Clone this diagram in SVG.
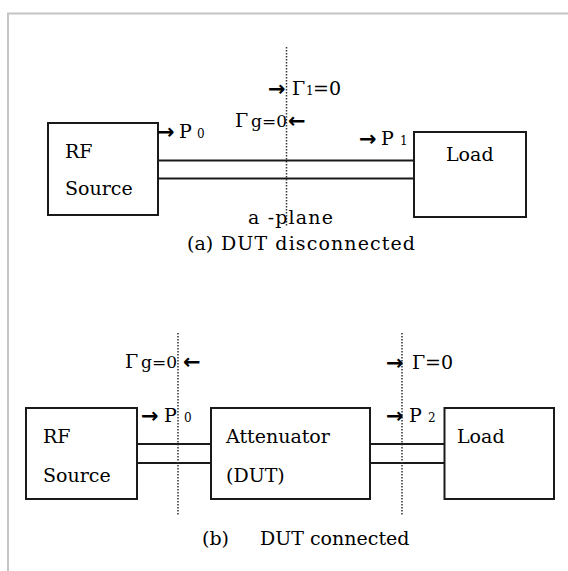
<svg xmlns="http://www.w3.org/2000/svg" width="568" height="571" viewBox="0 0 568 571">
<style>
.bx{fill:#fff;stroke:#1a1a1a;stroke-width:2}
.ln{stroke:#1a1a1a;stroke-width:2;fill:none}
.dot{stroke:#333;stroke-width:1.5;stroke-dasharray:1.5 1.5;fill:none}
.t{font-family:"DejaVu Serif","Liberation Serif",serif;font-size:19px;fill:#000}
.s{font-size:12px}
.g{font-size:17px}
.ar{font-family:"DejaVu Sans",sans-serif;font-size:21px;font-weight:bold;fill:#000}
.frame{stroke:#c4c4c4;stroke-width:2;fill:none}
</style>
<rect width="568" height="571" fill="#fff"/>
<path class="frame" d="M8,571 V13.5 H568"/>

<!-- Panel (a) -->
<g id="connectors-a">
<line class="ln" x1="158" y1="160.5" x2="414" y2="160.5"/>
<line class="ln" x1="158" y1="178.5" x2="414" y2="178.5"/>
<line class="dot" x1="286.5" y1="47" x2="286.5" y2="226"/>
</g>
<g id="a-rf-source">
<rect class="bx" x="48" y="123" width="110" height="92"/>
<text class="t" x="65" y="158">RF</text>
<text class="t" x="65" y="195">Source</text>
</g>
<g id="a-load">
<rect class="bx" x="414" y="132" width="112" height="85"/>
<text class="t" x="446" y="161">Load</text>
</g>
<g id="a-labels">
<text class="ar" x="157" y="139">→</text>
<text class="t" x="179" y="138">P<tspan class="s" x="197">0</tspan></text>
<text class="ar" x="359" y="146">→</text>
<text class="t" x="381" y="145">P<tspan class="s" x="400">1</tspan></text>
<text class="ar" x="268" y="96">→</text>
<text class="t" x="292" y="95">Γ<tspan class="s" x="306">1</tspan><tspan x="313">=0</tspan></text>
<text class="t" x="235" y="127">Γ<tspan class="g" x="251">g=0</tspan></text>
<text class="ar" x="288" y="128">←</text>
<text class="t" x="248" y="224" textLength="85">a -plane</text>
<text class="t" x="187" y="250">(a)</text>
<text class="t" x="221" y="250" textLength="194">DUT disconnected</text>
</g>

<!-- Panel (b) -->
<g id="connectors-b">
<line class="ln" x1="137" y1="444" x2="211" y2="444"/>
<line class="ln" x1="137" y1="463" x2="211" y2="463"/>
<line class="ln" x1="370" y1="444" x2="444.5" y2="444"/>
<line class="ln" x1="370" y1="463" x2="444.5" y2="463"/>
<line class="dot" x1="178" y1="333" x2="178" y2="516"/>
<line class="dot" x1="402" y1="333" x2="402" y2="516"/>
</g>
<g id="b-rf-source">
<rect class="bx" x="26" y="408" width="111" height="91"/>
<text class="t" x="43" y="443">RF</text>
<text class="t" x="43" y="482">Source</text>
</g>
<g id="b-attenuator">
<rect class="bx" x="211" y="408" width="159" height="91"/>
<text class="t" x="226" y="443">Attenuator</text>
<text class="t" x="226" y="482">(DUT)</text>
</g>
<g id="b-load">
<rect class="bx" x="444.5" y="408" width="109.5" height="91"/>
<text class="t" x="457" y="443">Load</text>
</g>
<g id="b-labels">
<text class="t" x="125" y="368">Γ<tspan class="g" x="141">g=0</tspan></text>
<text class="ar" x="183" y="369">←</text>
<text class="ar" x="386" y="370">→</text>
<text class="t" x="412" y="369">Γ<tspan x="425">=0</tspan></text>
<text class="ar" x="141" y="423">→</text>
<text class="t" x="164" y="422">P<tspan class="s" x="184">0</tspan></text>
<text class="ar" x="386" y="423">→</text>
<text class="t" x="409" y="422">P<tspan class="s" x="428">2</tspan></text>
<text class="t" x="202" y="545">(b)</text>
<text class="t" x="260" y="545">DUT connected</text>
</g>
</svg>
